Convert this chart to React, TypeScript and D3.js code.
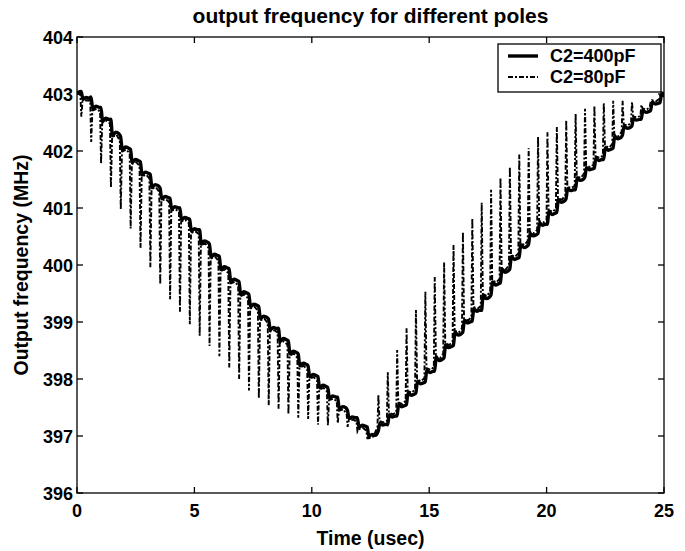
import React from 'react';
import * as d3 from 'd3';

const W = 685;
const H = 551;

const titleText = 'output frequency for different poles';
const xLabel = 'Time (usec)';
const yLabel = 'Output frequency (MHz)';
const xTicks = [0, 5, 10, 15, 20, 25];
const yTicks = [396, 397, 398, 399, 400, 401, 402, 403, 404];
const seriesNames = ['C2=400pF', 'C2=80pF'];

// start / end of both traces (usec, MHz)
const startPoint = [0, 403.02];
const endPoint = [25, 403.0];

// descending half: time of each correction step (usec)
const downTimes = [0.21, 0.63, 1.05, 1.47, 1.89, 2.31, 2.73, 3.15, 3.57, 3.99, 4.41, 4.83, 5.25, 5.67, 6.09,
  6.51, 6.93, 7.35, 7.77, 8.19, 8.61, 9.03, 9.45, 9.87, 10.29, 10.71, 11.13, 11.55, 11.97, 12.39];
// C2=400pF level at each step (MHz)
const downSolid = [402.98, 402.85, 402.65, 402.42, 402.14, 401.92, 401.70, 401.48, 401.26, 401.08, 400.90, 400.70,
  400.50, 400.26, 400.04, 399.82, 399.60, 399.38, 399.17, 398.96, 398.78, 398.56, 398.34, 398.14, 397.95, 397.76,
  397.58, 397.38, 397.24, 397.08];
// C2=80pF spike tip at each step (MHz)
const downDashTip = [402.60, 402.16, 401.78, 401.36, 400.98, 400.64, 400.30, 399.96, 399.66, 399.40, 399.18, 398.96,
  398.76, 398.58, 398.40, 398.20, 398.00, 397.80, 397.66, 397.54, 397.48, 397.38, 397.32, 397.30, 397.20, 397.19,
  397.22, 397.16, 397.08, 396.96];

// ascending half
const upTimes = [12.86, 13.26, 13.66, 14.06, 14.46, 14.86, 15.26, 15.66, 16.06, 16.46, 16.86, 17.26, 17.66, 18.06,
  18.46, 18.86, 19.26, 19.66, 20.06, 20.46, 20.86, 21.26, 21.66, 22.06, 22.46, 22.86, 23.26, 23.66, 24.06, 24.46, 24.86];
const upSolid = [397.15, 397.28, 397.45, 397.65, 397.85, 398.05, 398.25, 398.48, 398.70, 398.92, 399.12, 399.33,
  399.58, 399.80, 400.03, 400.24, 400.45, 400.64, 400.82, 401.03, 401.25, 401.42, 401.62, 401.78, 401.95, 402.15,
  402.35, 402.50, 402.63, 402.78, 402.92];
const upDashTip = [397.72, 398.12, 398.51, 398.89, 399.21, 399.53, 399.79, 400.05, 400.35, 400.58, 400.82, 401.09,
  401.32, 401.53, 401.72, 401.94, 402.05, 402.25, 402.33, 402.42, 402.54, 402.65, 402.74, 402.79, 402.84, 402.88,
  402.88, 402.86, 402.81, 402.88, 402.98];

const margin = { left: 77, right: 21, top: 37, bottom: 58 };
const FONT = '"Liberation Sans", Arial, Helvetica, sans-serif';

type P = [number, number];

function buildTraces() {
  const solid: P[] = [[startPoint[0], startPoint[1]]];
  const dash: P[] = [[startPoint[0], startPoint[1]]];
  const halves = [
    { t: downTimes, s: downSolid, d: downDashTip, g: -1 },
    { t: upTimes, s: upSolid, d: upDashTip, g: 1 },
  ];
  halves.forEach(({ t, s, d, g }) => {
    t.forEach((tk, k) => {
      const P = (k + 1 < t.length ? t[k + 1] - tk : tk - t[k - 1]);
      const A = Math.abs(k + 1 < s.length ? s[k + 1] - s[k] : s[k] - s[k - 1]);
      const L = s[k];
      solid.push([tk - 0.08 * P, L - g * 0.5 * A]);
      solid.push([tk + 0.1 * P, L + g * 0.55 * A]);
      solid.push([tk + 0.42 * P, L + g * 0.32 * A]);
      solid.push([tk + 0.75 * P, L + g * 0.42 * A]);
      const off = g * 0.05;
      dash.push([tk - 0.16 * P, L - g * 0.4 * A + off]);
      dash.push([tk - 0.06 * P, d[k]]);
      dash.push([tk + 0.06 * P, L + g * 0.45 * A + off]);
      dash.push([tk + 0.5 * P, L + g * 0.3 * A + off]);
    });
  });
  solid.push([endPoint[0], endPoint[1]]);
  dash.push([endPoint[0], endPoint[1]]);
  return { solid, dash };
}

export default function App() {
  const x = d3.scaleLinear().domain([0, 25]).range([margin.left, W - margin.right]);
  const y = d3.scaleLinear().domain([396, 404]).range([H - margin.bottom, margin.top]);
  const { solid, dash } = buildTraces();
  const solidLine = d3.line<P>().x(p => x(p[0])).y(p => y(p[1])).curve(d3.curveMonotoneX);
  const dashLine = d3.line<P>().x(p => x(p[0])).y(p => y(p[1])).curve(d3.curveLinear);
  const x0 = x(0), x1 = x(25), y0 = y(396), y1 = y(404);
  const tickLen = 6;
  const dashPattern = '5,2,2,2';
  const lx = 498, ly = 44, lw = 163, lh = 48;

  return (
    <svg width={W} height={H} style={{ position: 'absolute', left: 0, top: 0, background: '#fff' }}
      fontFamily={FONT} fontWeight="bold">
      <rect x={0} y={0} width={W} height={H} fill="#fff" />
      <defs>
        <clipPath id="plotClip">
          <rect x={x0} y={y1} width={x1 - x0} height={y0 - y1} />
        </clipPath>
      </defs>
      <g clipPath="url(#plotClip)">
        <path d={dashLine(dash) || ''} fill="none" stroke="#000" strokeWidth={1.9} strokeDasharray={dashPattern} />
        <path d={solidLine(solid) || ''} fill="none" stroke="#000" strokeWidth={3.4} strokeLinejoin="round" />
      </g>
      {/* axes box */}
      <rect x={x0} y={y1} width={x1 - x0} height={y0 - y1} fill="none" stroke="#000" strokeWidth={1.3} />
      {xTicks.map(t => (
        <g key={'xt' + t}>
          <line x1={x(t)} x2={x(t)} y1={y0} y2={y0 - tickLen} stroke="#000" strokeWidth={1.3} />
          <line x1={x(t)} x2={x(t)} y1={y1} y2={y1 + tickLen} stroke="#000" strokeWidth={1.3} />
          <text x={x(t)} y={y0 + 24} textAnchor="middle" fontSize={18}>{t}</text>
        </g>
      ))}
      {yTicks.map(t => (
        <g key={'yt' + t}>
          <line x1={x0} x2={x0 + tickLen} y1={y(t)} y2={y(t)} stroke="#000" strokeWidth={1.3} />
          <line x1={x1} x2={x1 - tickLen} y1={y(t)} y2={y(t)} stroke="#000" strokeWidth={1.3} />
          <text x={x0 - 4} y={y(t) + 6.5} textAnchor="end" fontSize={18}>{t}</text>
        </g>
      ))}
      <text x={(x0 + x1) / 2} y={23} textAnchor="middle" fontSize={21}>{titleText}</text>
      <text x={(x0 + x1) / 2} y={545} textAnchor="middle" fontSize={19.5}>{xLabel}</text>
      <text transform={`translate(28,${(y0 + y1) / 2}) rotate(-90)`} textAnchor="middle" fontSize={19.5}>{yLabel}</text>
      {/* legend */}
      <rect x={lx} y={ly} width={lw} height={lh} fill="#fff" stroke="#000" strokeWidth={1.3} />
      <line x1={lx + 10} x2={lx + 40} y1={ly + 12} y2={ly + 12} stroke="#000" strokeWidth={3.4} />
      <text x={lx + 52} y={ly + 18} fontSize={18}>{seriesNames[0]}</text>
      <line x1={lx + 10} x2={lx + 40} y1={ly + 33} y2={ly + 33} stroke="#000" strokeWidth={1.9} strokeDasharray={dashPattern} />
      <text x={lx + 52} y={ly + 39} fontSize={18}>{seriesNames[1]}</text>
    </svg>
  );
}
